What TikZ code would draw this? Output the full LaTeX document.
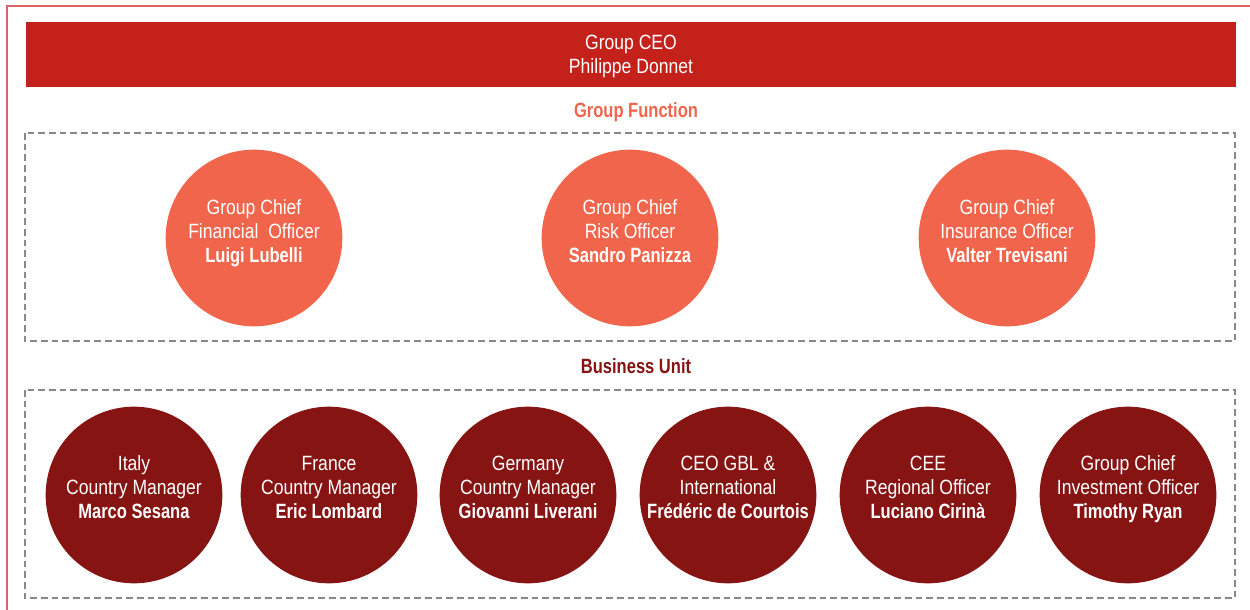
\documentclass[tikz,border=0pt]{standalone}
\usepackage{fontspec}
\usepackage{xcolor}
\newfontfamily\cond{Liberation Sans}[FakeStretch=0.85, BoldFeatures={FakeStretch=0.8}]

\definecolor{ceored}{RGB}{196,33,27}
\definecolor{fnsalmon}{RGB}{240,101,75}
\definecolor{budark}{RGB}{133,20,19}
\definecolor{dashgrey}{RGB}{136,136,140}
\definecolor{framered}{RGB}{222,100,100}

\tikzset{
	fnball/.style={circle, fill=fnsalmon, minimum size=132.5pt, inner sep=0pt},
	buball/.style={circle, fill=budark, minimum size=132.5pt, inner sep=0pt},
	balltext/.style={text=white, align=center, font=\cond\fontsize{15.5}{18}\selectfont},
	dashbox/.style={draw=dashgrey, line width=1.4pt, dash pattern=on 5pt off 3pt},
	headtitle/.style={font=\cond\bfseries\fontsize{15.5}{18}\selectfont},
}

\begin{document}
\begin{tikzpicture}[x=0.75pt, y=-0.75pt]
	\useasboundingbox (0,0) rectangle (1250,610);
	
	% frame
	\draw[framered, line width=1.3pt] (7,612) -- (7,6) -- (1252,6);
	
	% group ceo
	\node[fill=ceored, minimum width=907.5pt, minimum height=48.75pt, inner sep=0pt] (ceo) at (631,54.5) {};
	\node[balltext] (ceotext) at ([yshift=-1.5pt]ceo.center) {Group CEO\\Philippe Donnet};
	
	% group function
	\node[headtitle, text=fnsalmon] (fntitle) at (636,112.5) {Group Function};
	\draw[dashbox] (25,133) rectangle (1235,341);
	
	\node[fnball] (cfo) at (254,238) {};
	\node[balltext] (cfotext) at ([yshift=3.3pt]cfo.center) {Group Chief\\Financial~~Officer\\\textbf{Luigi Lubelli}};
	
	\node[fnball] (cro) at (630,238) {};
	\node[balltext] (crotext) at ([yshift=5.5pt]cro.center) {Group Chief\\Risk Officer\\\textbf{Sandro Panizza}};
	
	\node[fnball] (cio) at (1007,238) {};
	\node[balltext] (ciotext) at ([yshift=5.5pt]cio.center) {Group Chief\\Insurance Officer\\\textbf{Valter Trevisani}};
	
	% business unit
	\node[headtitle, text=budark] (butitle) at (636,366) {Business Unit};
	\draw[dashbox] (25,390) rectangle (1235,598);
	
	\node[buball] (italy) at (134,495) {};
	\node[balltext] (italytext) at ([yshift=6pt]italy.center) {Italy\\Country Manager\\\textbf{Marco Sesana}};
	
	\node[buball] (france) at (329,495) {};
	\node[balltext] (francetext) at ([yshift=6pt]france.center) {France\\Country Manager\\\textbf{Eric Lombard}};
	
	\node[buball] (germany) at (528,495) {};
	\node[balltext] (germanytext) at ([yshift=6pt]germany.center) {Germany\\Country Manager\\\textbf{Giovanni Liverani}};
	
	\node[buball] (gbl) at (728,495) {};
	\node[balltext] (gbltext) at ([yshift=6pt]gbl.center) {CEO GBL \&\\International\\\textbf{Frédéric de Courtois}};
	
	\node[buball] (cee) at (928,495) {};
	\node[balltext] (ceetext) at ([yshift=6pt]cee.center) {CEE\\Regional Officer\\\textbf{Luciano Cirinà}};
	
	\node[buball] (invest) at (1128,495) {};
	\node[balltext] (investtext) at ([yshift=4.5pt]invest.center) {Group Chief\\Investment Officer\\\textbf{Timothy Ryan}};
\end{tikzpicture}
\end{document}
